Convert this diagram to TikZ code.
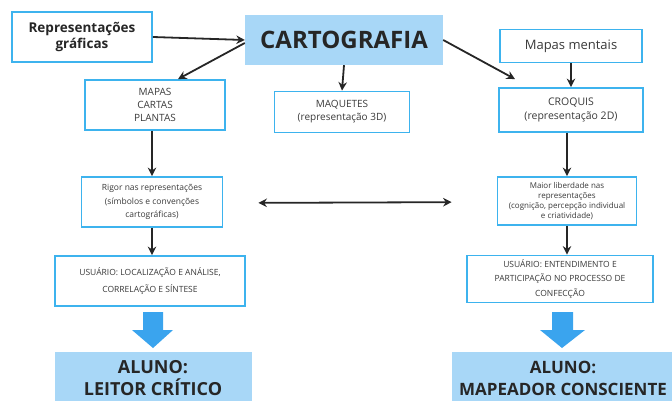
\documentclass[tikz,border=0pt]{standalone}
\usepackage{fontspec}
\setmainfont{Open Sans}
\usepackage{tikz}
\usetikzlibrary{positioning,arrows.meta,calc}
\definecolor{boxblue}{HTML}{3DB3EE}
\definecolor{fillblue}{HTML}{A8D7F7}
\definecolor{arrowblue}{HTML}{3AA4EE}
\definecolor{txtgray}{HTML}{3A3A3A}
\tikzstyle{box} = [rectangle, draw=boxblue, line width=1.8pt, fill=white, text=txtgray, align=center, inner sep=1pt]
\tikzstyle{titlebox} = [rectangle, fill=fillblue, text=black!85, align=center, inner sep=1pt, font=\bfseries]
\tikzstyle{arrow} = [line width=1.8pt,->,>={Stealth[length=8.5pt,width=8.5pt]}, draw=black!85]
\newcommand{\fs}[2]{\fontsize{#1}{#2}\selectfont}

\begin{document}
\begin{tikzpicture}[x=1pt,y=-1pt]
        \useasboundingbox (0,0) rectangle (672,401);
        \node[box, font=\bfseries\fs{13.5}{16}, text=black!85, minimum width=140pt, minimum height=50pt] (rep) at (82,37) {Representações\\gráficas};
        \node[titlebox, font=\bfseries\fs{24}{28}, minimum width=198pt, minimum height=50pt] (carto) at (344,40) {CARTOGRAFIA};
        \node[box, font=\fs{10}{13}, minimum width=140pt, minimum height=50pt] (mapas) at (155,105) {MAPAS\\CARTAS\\PLANTAS};
        \node[box, font=\fs{10}{13}, minimum width=135pt, minimum height=41pt] (maquetes) at (342,112) {MAQUETES\\(representação 3D)};
        \node[box, font=\fs{13}{15}, minimum width=142pt, minimum height=33pt] (mentais) at (571,46) {Mapas mentais};
        \node[box, font=\fs{10.5}{14}, minimum width=144pt, minimum height=44pt] (croquis) at (571,110) {CROQUIS\\(representação 2D)};
        \node[box, font=\fs{8.5}{13.5}, minimum width=141pt, minimum height=50pt] (rigor) at (152,202) {Rigor nas representações\\(símbolos e convenções\\cartográficas)};
        \node[box, font=\fs{8}{10}, minimum width=139pt, minimum height=48pt] (maior) at (567,201) {Maior liberdade nas\\representações\\(cognição, percepção individual\\e criatividade)};
        \node[box, font=\fs{8.5}{17}, minimum width=190pt, minimum height=50pt] (usoL) at (150,281) {USUÁRIO: LOCALIZAÇÃO E ANÁLISE,\\CORRELAÇÃO E SÍNTESE};
        \node[box, font=\fs{8.5}{14.5}, minimum width=186pt, minimum height=47pt] (usoR) at (560,279) {USUÁRIO: ENTENDIMENTO E\\PARTICIPAÇÃO NO PROCESSO DE\\CONFECÇÃO};
        \node[titlebox, font=\bfseries\fs{18}{22}, minimum width=197pt, minimum height=52pt] (alunoL) at (153,378) {ALUNO:\\LEITOR CRÍTICO};
        \node[titlebox, font=\bfseries\fs{17}{22}, minimum width=222pt, minimum height=52pt] (alunoR) at (563,378) {ALUNO:\\MAPEADOR CONSCIENTE};
        % setas
        \draw[arrow] (rep.east) -- (carto.west);
        \draw[arrow] ([yshift=-3pt]carto.west) -- ([xshift=23pt]mapas.north);
        \draw[arrow] (carto.south) -- (maquetes.north);
        \draw[arrow] (carto.east) -- ([xshift=-56pt,yshift=8pt]croquis.north);
        \draw[arrow] (mentais.south) -- (croquis.north);
        \draw[arrow] (maior.north |- croquis.south) -- (maior.north);
        \draw[arrow] (mapas.south -| rigor.north) -- (rigor.north);
        \draw[arrow] (rigor.south) -- (rigor.south |- usoL.north);
        \draw[arrow] (maior.south) -- (maior.south |- usoR.north);
        \draw[arrow, <->, shorten <=35pt, shorten >=45pt] ([yshift=-1pt]rigor.east) -- ([yshift=-1pt]maior.west);
        % setas grandes
        \fill[arrowblue] (143,312) -- (163,312) -- (163,330) -- (173,330) -- (153,348) -- (132,330) -- (143,330) -- cycle;
        \fill[arrowblue] (552,312) -- (573,312) -- (573,330) -- (585,330) -- (562,348) -- (540,330) -- (552,330) -- cycle;
\end{tikzpicture}
\end{document}
